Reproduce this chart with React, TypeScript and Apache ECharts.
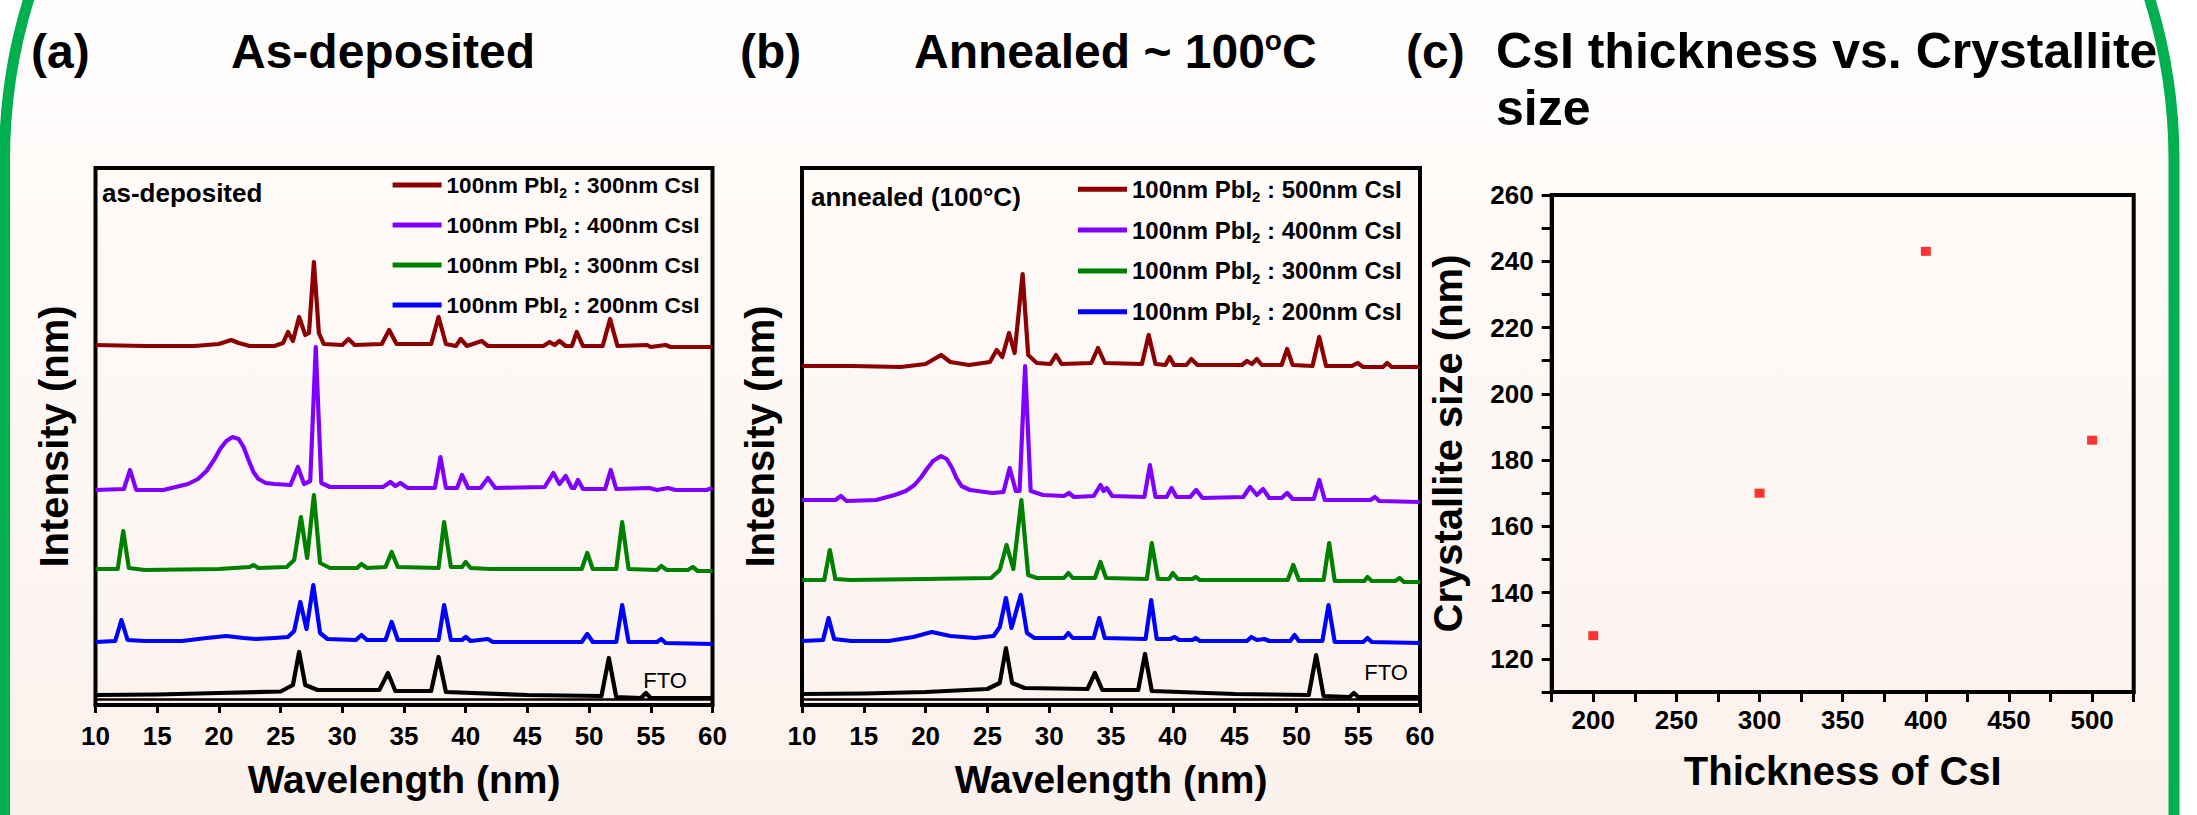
import React, { useEffect, useRef } from 'react';
import * as echarts from 'echarts';

const FONT = '"Liberation Sans", Arial, Helvetica, sans-serif';

// ---------- Panel (a): as-deposited XRD traces (wavelength, stacked intensity) ----------
const aRed300: [number, number][] = [
  [10, 360], [14, 359], [18, 359], [20, 361], [21.0, 365], [21.6, 362], [22.5, 359], [24.5, 359],
  [25.2, 362], [25.6, 373], [26.0, 364], [26.5, 388], [27.0, 370], [27.3, 372], [27.7, 443], [28.1, 372],
  [28.5, 361], [30, 360], [30.5, 366], [31, 360], [33.2, 361], [33.8, 375], [34.4, 361], [37.2, 361],
  [37.8, 388], [38.4, 361], [39.2, 359], [39.6, 366], [40.1, 359], [41.3, 364], [41.8, 359], [46.3, 359],
  [46.8, 363], [47.2, 360], [47.6, 364], [48.1, 359], [48.6, 359], [49.0, 373], [49.5, 359], [51.1, 359],
  [51.7, 386], [52.3, 359], [54.7, 360], [55.0, 358], [56.2, 360], [56.6, 358], [60, 358],
];
const aPurple400: [number, number][] = [
  [10, 215], [12.3, 216], [12.8, 235], [13.3, 215], [15.5, 215], [16.5, 218], [17.5, 221], [18.3, 226],
  [19.0, 234], [19.6, 245], [20.1, 256], [20.6, 264], [21.1, 268], [21.6, 266], [22.0, 258], [22.4, 245],
  [22.8, 233], [23.2, 226], [23.8, 222], [24.5, 221], [25.8, 220],
  [26.4, 238], [26.9, 221], [27.4, 224], [27.85, 358], [28.3, 222], [29, 218], [33.3, 218], [33.9, 223],
  [34.3, 219], [34.7, 222], [35.3, 217], [37.5, 217], [37.95, 248], [38.4, 217], [39.3, 217], [39.7, 230],
  [40.2, 217], [41.2, 217], [41.8, 227], [42.4, 217], [46.4, 218], [47.1, 232], [47.6, 221], [48.1, 229],
  [48.6, 217], [48.8, 217], [49.1, 225], [49.5, 216], [51.3, 216], [51.75, 235], [52.2, 216], [54.9, 217],
  [55.5, 215], [56.4, 217], [57, 215], [59.5, 215], [60, 217],
];
const aGreen300: [number, number][] = [
  [10, 136], [11.8, 136], [12.25, 174], [12.7, 137], [14, 135], [20, 136], [22.5, 138], [22.8, 140],
  [23.2, 137], [25.5, 138], [26.1, 145], [26.65, 188], [27.15, 147], [27.7, 210], [28.2, 142], [29, 137],
  [31.2, 137], [31.55, 141], [32, 137], [33.5, 138], [34.0, 153], [34.5, 138], [37.8, 137], [38.25, 183],
  [38.8, 138], [39.7, 138], [40.0, 143], [40.4, 137], [42, 136], [49.4, 136], [49.85, 152], [50.3, 136],
  [52.2, 136], [52.68, 183], [53.2, 136], [55.5, 135], [55.85, 139], [56.3, 135], [58, 135], [58.4, 138],
  [58.8, 134], [60, 134],
];
const aBlue200: [number, number][] = [
  [10, 63], [11.6, 64], [12.1, 85], [12.6, 65], [14, 64], [17, 64], [19, 67], [20.6, 69], [22, 67],
  [23, 66], [24.5, 67], [25.6, 68], [26.1, 74], [26.6, 103], [27.1, 76], [27.65, 120], [28.2, 72],
  [28.8, 66], [31.1, 65], [31.55, 70], [32, 65], [33.5, 65], [34.0, 83], [34.5, 65], [37.8, 65],
  [38.25, 100], [38.8, 65], [39.7, 65], [40.0, 68], [40.4, 64], [41.8, 66], [42.2, 63], [45, 63],
  [49.4, 63], [49.85, 71], [50.3, 63], [52.2, 63], [52.68, 100], [53.2, 63], [55.5, 63], [55.85, 66],
  [56.2, 62], [60, 61],
];
const aFTO: [number, number][] = [
  [10, 10], [15, 10.5], [20, 12], [25, 13.5], [26.0, 20], [26.5, 53], [27.0, 20], [28, 15], [33.0, 15],
  [33.7, 32], [34.3, 14], [37.2, 14], [37.8, 48], [38.4, 13], [45, 10], [51.0, 9], [51.6, 47], [52.2, 8],
  [54.2, 7], [54.6, 12], [55.0, 7], [60, 7],
];
const aFloor: [number, number][] = [[10, 5.5], [60, 5.5]];

// ---------- Panel (b): annealed (100 °C) ----------
const bRed500: [number, number][] = [
  [10, 339], [14, 339], [18, 338], [20, 341], [21.25, 350], [22, 343], [23.5, 340], [25.2, 343],
  [25.75, 355], [26.2, 348], [26.75, 372], [27.2, 352], [27.85, 431], [28.3, 350], [29, 342], [30.1, 341],
  [30.55, 350], [31, 341], [33.4, 342], [33.95, 357], [34.5, 342], [37.5, 341], [38.05, 370], [38.6, 341],
  [39.4, 340], [39.75, 348], [40.1, 340], [41.1, 340], [41.5, 346], [42, 340], [45.6, 340], [46, 344],
  [46.4, 341], [46.8, 346], [47.2, 340], [48.8, 340], [49.25, 356], [49.7, 340], [51.3, 339], [51.85, 368],
  [52.4, 339], [54.5, 339], [54.95, 342], [55.4, 338], [57, 338], [57.35, 342], [57.7, 338], [60, 338],
];
const bPurple400: [number, number][] = [
  [10, 205], [12.7, 205], [13.15, 209], [13.6, 204], [16, 205], [17.5, 210], [18.4, 214], [19.1, 220],
  [19.65, 228], [20.1, 236], [20.6, 244], [21.25, 249], [21.7, 246], [22.1, 238], [22.5, 227], [22.9, 219],
  [23.6, 215], [25.4, 212], [26.3, 213], [26.8, 237],
  [27.3, 214], [27.6, 214], [28.05, 339], [28.5, 214], [29.5, 210], [31.2, 209], [31.6, 212], [32, 208],
  [33.6, 209], [34.15, 220], [34.4, 214], [34.65, 217], [35.1, 209], [37.7, 208], [38.15, 240], [38.6, 208],
  [39.5, 208], [39.9, 217], [40.3, 208], [41.4, 208], [41.9, 215], [42.4, 207], [45.7, 208], [46.25, 218],
  [46.8, 210], [47.3, 216], [47.8, 207], [48.8, 207], [49.25, 212], [49.7, 206], [51.4, 206], [51.85, 225],
  [52.3, 205], [56, 205], [56.35, 208], [56.7, 204], [60, 203],
];
const bGreen300: [number, number][] = [
  [10, 125], [11.8, 125], [12.25, 155], [12.7, 126], [14, 125], [20, 126], [25.3, 127], [26.0, 135],
  [26.55, 160], [27.1, 136], [27.75, 205], [28.3, 130], [29, 127], [31.2, 127], [31.55, 132], [31.9, 127],
  [33.7, 127], [34.15, 143], [34.6, 127], [37.9, 126], [38.3, 162], [38.8, 126], [39.7, 126], [40.0, 132],
  [40.4, 126], [41.6, 126], [41.85, 128], [42.2, 125], [49.3, 125], [49.75, 140], [50.2, 125], [52.2, 125],
  [52.65, 162], [53.1, 124], [55.5, 124], [55.75, 128], [56.1, 124], [58, 124], [58.35, 127], [58.7, 123],
  [60, 123],
];
const bBlue200: [number, number][] = [
  [10, 64], [11.7, 65], [12.15, 87], [12.6, 66], [14, 64], [17, 64], [19, 68], [20.5, 73], [22, 69],
  [24, 67], [25.5, 69], [26.0, 78], [26.5, 107], [26.95, 77], [27.7, 110], [28.2, 72], [28.8, 67],
  [31.2, 67], [31.55, 72], [31.9, 67], [33.6, 67], [34.05, 87], [34.5, 67], [37.8, 66], [38.25, 105],
  [38.7, 66], [39.8, 66], [40.15, 68], [40.5, 65], [41.6, 65], [41.85, 67], [42.2, 64], [46, 64],
  [46.35, 68], [46.8, 65], [47.4, 66], [47.8, 64], [49.5, 64], [49.85, 70], [50.2, 64], [52.1, 64],
  [52.6, 100], [53.1, 63], [55.4, 63], [55.75, 67], [56.1, 63], [60, 62],
];
const bFTO: [number, number][] = [
  [10, 11], [15, 11.5], [20, 13], [25, 16], [26.0, 22], [26.5, 57], [27.0, 22], [28, 17], [33.1, 16],
  [33.7, 32], [34.3, 15], [37.2, 15], [37.75, 51], [38.3, 14], [45, 11], [51.0, 10], [51.6, 50], [52.2, 9],
  [54.3, 8], [54.65, 12], [55.0, 8], [60, 8],
];
const bFloor: [number, number][] = [[10, 5.5], [60, 5.5]];

// ---------- Panel (c): CsI thickness vs crystallite size ----------
const csiThickness = [200, 300, 400, 500];
const crystalliteSize = [127, 170, 243, 186];

// ---------- Legend labels ----------
const legendIdsA = ['a1', 'a2', 'a3', 'a4'];
const legendTextA = [
  '100nm PbI2 : 300nm CsI',
  '100nm PbI2 : 400nm CsI',
  '100nm PbI2 : 300nm CsI',
  '100nm PbI2 : 200nm CsI',
];
const legendIdsB = ['b1', 'b2', 'b3', 'b4'];
const legendTextB = [
  '100nm PbI2 : 500nm CsI',
  '100nm PbI2 : 400nm CsI',
  '100nm PbI2 : 300nm CsI',
  '100nm PbI2 : 200nm CsI',
];
const traceColors = ['#8B0000', '#8000FF', '#008000', '#0000FF'];

const labelMap: Record<string, string> = {};
legendIdsA.forEach((id, i) => (labelMap[id] = legendTextA[i]));
legendIdsB.forEach((id, i) => (labelMap[id] = legendTextB[i]));

function buildOption() {
  const lineSeries = (id: string, data: [number, number][], color: string, idx: number, width = 4.2) => ({
    id,
    name: id,
    type: 'line',
    xAxisIndex: idx,
    yAxisIndex: idx,
    data,
    symbol: 'none',
    showSymbol: false,
    color,
    lineStyle: { color, width, join: 'round' },
    silent: true,
    z: 3,
  });

  const xAxisXRD = (gridIndex: number) => ({
    type: 'value',
    gridIndex,
    min: 10,
    max: 60,
    interval: 5,
    splitLine: { show: false },
    axisLine: { show: true, lineStyle: { color: '#000', width: 4 } },
    axisTick: { show: true, length: 8, lineStyle: { color: '#000', width: 3 } },
    axisLabel: { margin: 18, fontSize: 26, fontWeight: 'bold', color: '#000', fontFamily: FONT },
    name: 'Wavelength (nm)',
    nameLocation: 'middle',
    nameGap: 55,
    nameTextStyle: { fontSize: 39, fontWeight: 'bold', color: '#000', fontFamily: FONT },
  });
  const yAxisXRD = (gridIndex: number) => ({
    type: 'value',
    gridIndex,
    min: 0,
    max: 537,
    splitLine: { show: false },
    axisLine: { show: false },
    axisTick: { show: false },
    axisLabel: { show: false },
    name: 'Intensity (nm)',
    nameLocation: 'middle',
    nameRotate: 90,
    nameGap: 22,
    nameTextStyle: { fontSize: 40, fontWeight: 'bold', color: '#000', fontFamily: FONT },
  });

  const legendCommon = (size: number) => ({
    orient: 'vertical',
    padding: 0,
    itemWidth: 49,
    itemHeight: 5,
    icon: 'rect',
    selectedMode: false,
    formatter: (name: string) => (labelMap[name] || name).replace('PbI2', 'PbI{s|2}'),
    textStyle: {
      fontSize: size,
      fontWeight: 'bold',
      fontFamily: FONT,
      color: '#000',
      lineHeight: 30,
      rich: {
        s: { fontSize: Math.round(size * 0.62), fontWeight: 'bold', fontFamily: FONT, color: '#000', lineHeight: 15, verticalAlign: 'bottom' },
      },
    },
  });

  const titleStyle = (text: string, x: number, y: number, size = 48) => ({
    type: 'text',
    silent: true,
    z: 10,
    style: {
      text,
      x,
      y,
      fill: '#000',
      fontSize: size,
      fontWeight: 'bold',
      fontFamily: FONT,
      textAlign: 'left',
      textVerticalAlign: 'middle',
    },
  });

  return {
    animation: false,
    backgroundColor: '#ffffff',
    graphic: [
      {
        type: 'rect',
        silent: true,
        z: -10,
        shape: { x: 4.5, y: -385, width: 2169.5, height: 1250, r: [545, 545, 0, 0] },
        style: {
          fill: new echarts.graphic.LinearGradient(0, 0, 0, 1, [
            { offset: 0.3, color: '#fffefd' },
            { offset: 0.96, color: '#fbf1ec' },
          ]),
          stroke: '#00B050',
          lineWidth: 11,
        },
      },
      titleStyle('(a)', 31, 51),
      titleStyle('As-deposited', 231, 51),
      titleStyle('(b)', 740, 51),
      {
        type: 'text',
        silent: true,
        z: 10,
        style: {
          text: 'Annealed ~ 100{o|o}C',
          x: 914,
          y: 51,
          fill: '#000',
          fontSize: 48,
          fontWeight: 'bold',
          fontFamily: FONT,
          lineHeight: 50,
          textAlign: 'left',
          textVerticalAlign: 'middle',
          rich: {
            o: { fontSize: 28, fontWeight: 'bold', fontFamily: FONT, fill: '#000', lineHeight: 30, verticalAlign: 'top' },
          },
        },
      },
      titleStyle('(c)', 1406, 51),
      titleStyle('CsI thickness vs. Crystallite', 1496, 51, 50),
      titleStyle('size', 1496, 108, 50),
      {
        type: 'text',
        silent: true,
        z: 10,
        style: { text: 'as-deposited', x: 102, y: 193, fill: '#000', fontSize: 26, fontWeight: 'bold', fontFamily: FONT, textAlign: 'left', textVerticalAlign: 'middle' },
      },
      {
        type: 'text',
        silent: true,
        z: 10,
        style: { text: 'annealed (100°C)', x: 811, y: 197, fill: '#000', fontSize: 26, fontWeight: 'bold', fontFamily: FONT, textAlign: 'left', textVerticalAlign: 'middle' },
      },
      {
        type: 'text',
        silent: true,
        z: 10,
        style: { text: 'FTO', x: 665, y: 680, fill: '#000', fontSize: 22, fontFamily: FONT, textAlign: 'center', textVerticalAlign: 'middle' },
      },
      {
        type: 'text',
        silent: true,
        z: 10,
        style: { text: 'FTO', x: 1386, y: 672, fill: '#000', fontSize: 22, fontFamily: FONT, textAlign: 'center', textVerticalAlign: 'middle' },
      },
    ],
    grid: [
      { left: 95.5, top: 168, width: 617, height: 537, show: true, borderColor: '#000', borderWidth: 4, backgroundColor: 'transparent' },
      { left: 802, top: 168, width: 618, height: 537, show: true, borderColor: '#000', borderWidth: 4, backgroundColor: 'transparent' },
      { left: 1551.7, top: 195, width: 582, height: 497, show: true, borderColor: '#000', borderWidth: 4, backgroundColor: 'transparent' },
    ],
    xAxis: [
      xAxisXRD(0),
      xAxisXRD(1),
      {
        type: 'value',
        gridIndex: 2,
        min: 175,
        max: 525,
        interval: 25,
        splitLine: { show: false },
        axisLine: { show: true, lineStyle: { color: '#000', width: 4 } },
        axisTick: { show: true, length: 10, lineStyle: { color: '#000', width: 3 } },
        axisLabel: {
          margin: 15,
          fontSize: 26,
          fontWeight: 'bold',
          color: '#000',
          fontFamily: FONT,
          showMinLabel: true,
          showMaxLabel: true,
          formatter: (v: number) => (v % 50 === 0 ? String(v) : ''),
        },
        name: 'Thickness of CsI',
        nameLocation: 'middle',
        nameGap: 59,
        nameTextStyle: { fontSize: 40, fontWeight: 'bold', color: '#000', fontFamily: FONT },
      },
    ],
    yAxis: [
      yAxisXRD(0),
      yAxisXRD(1),
      {
        type: 'value',
        gridIndex: 2,
        min: 110,
        max: 260,
        interval: 10,
        splitLine: { show: false },
        axisLine: { show: true, lineStyle: { color: '#000', width: 4 } },
        axisTick: { show: true, length: 10, lineStyle: { color: '#000', width: 3 } },
        axisLabel: {
          margin: 18,
          fontSize: 26,
          fontWeight: 'bold',
          color: '#000',
          fontFamily: FONT,
          showMinLabel: true,
          showMaxLabel: true,
          formatter: (v: number) => (v % 20 === 0 ? String(v) : ''),
        },
        name: 'Crystallite size (nm)',
        nameLocation: 'middle',
        nameRotate: 90,
        nameGap: 84,
        nameTextStyle: { fontSize: 40, fontWeight: 'bold', color: '#000', fontFamily: FONT },
      },
    ],
    legend: [
      { ...legendCommon(22.5), left: 392.6, top: 170, itemGap: 10, data: legendIdsA },
      { ...legendCommon(24), left: 1078, top: 174.3, itemGap: 10.8, data: legendIdsB },
    ],
    series: [
      lineSeries('a1', aRed300, traceColors[0], 0),
      lineSeries('a2', aPurple400, traceColors[1], 0),
      lineSeries('a3', aGreen300, traceColors[2], 0),
      lineSeries('a4', aBlue200, traceColors[3], 0),
      lineSeries('aFTO', aFTO, '#000000', 0),
      lineSeries('aFloor', aFloor, '#000000', 0, 2.5),
      lineSeries('b1', bRed500, traceColors[0], 1),
      lineSeries('b2', bPurple400, traceColors[1], 1),
      lineSeries('b3', bGreen300, traceColors[2], 1),
      lineSeries('b4', bBlue200, traceColors[3], 1),
      lineSeries('bFTO', bFTO, '#000000', 1),
      lineSeries('bFloor', bFloor, '#000000', 1, 2.5),
      {
        id: 'cScatter',
        name: 'Crystallite size',
        type: 'scatter',
        xAxisIndex: 2,
        yAxisIndex: 2,
        symbol: 'rect',
        symbolSize: [10, 9],
        itemStyle: { color: '#FF0000' },
        data: csiThickness.map((t, i) => [t, crystalliteSize[i]]),
        silent: true,
        z: 3,
      },
    ],
  };
}

export default function App() {
  const ref = useRef<HTMLDivElement>(null);
  useEffect(() => {
    if (!ref.current) return;
    const chart = echarts.init(ref.current, null, { renderer: 'svg' });
    chart.setOption(buildOption() as any);
    return () => chart.dispose();
  }, []);
  return (
    <div
      ref={ref}
      style={{ position: 'fixed', left: 0, top: 0, width: 2197, height: 815 }}
    />
  );
}
